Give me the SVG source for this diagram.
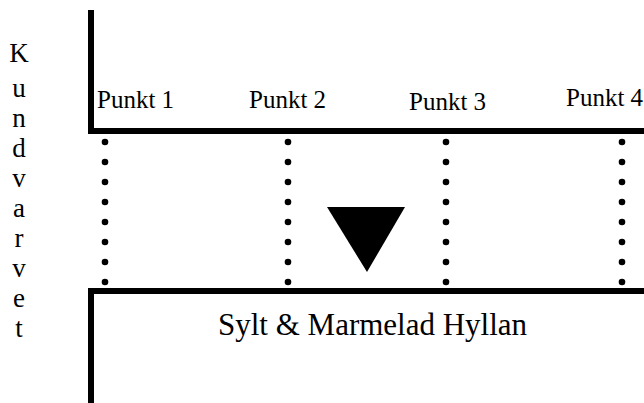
<svg xmlns="http://www.w3.org/2000/svg" width="644" height="403" viewBox="0 0 644 403">
<style>
.wall{stroke:#000;stroke-width:6;fill:none;stroke-linecap:square}
.dot{fill:#000}
.lbl{font-family:"Liberation Serif","Times New Roman",serif;fill:#000}
.p{font-size:25px}
.v{font-size:27px;text-anchor:middle}
.s{font-size:31px}
</style>
<rect width="644" height="403" fill="#fff"/>
<defs>
<g id="dotcol">
<circle cx="0" cy="142" r="3.3"/><circle cx="0" cy="162" r="3.3"/><circle cx="0" cy="182" r="3.3"/><circle cx="0" cy="202" r="3.3"/><circle cx="0" cy="222" r="3.3"/><circle cx="0" cy="242" r="3.3"/><circle cx="0" cy="262" r="3.3"/><circle cx="0" cy="282" r="3.3"/>
</g>
</defs>
<g id="walls">
<path class="wall" d="M91,13 V131 H647"/>
<path class="wall" d="M91,406 V291 H647"/>
</g>
<g id="connectors">
<use href="#dotcol" x="105" class="dot"/>
<use href="#dotcol" x="288" class="dot"/>
<use href="#dotcol" x="446" class="dot"/>
<use href="#dotcol" x="622" class="dot"/>
</g>
<g id="arrow"><polygon points="327,207 405,207 367,272" fill="#000"/></g>
<g id="label-kundvarvet" class="lbl v">
<text x="19" y="62">K</text>
<text x="19" y="97">u</text>
<text x="19" y="127">n</text>
<text x="19" y="157">d</text>
<text x="19" y="187">v</text>
<text x="19" y="217">a</text>
<text x="19" y="247">r</text>
<text x="19" y="277">v</text>
<text x="19" y="307">e</text>
<text x="19" y="337">t</text>
</g>
<g id="punkt1"><text class="lbl p" x="97" y="108">Punkt 1</text></g>
<g id="punkt2"><text class="lbl p" x="249" y="108">Punkt 2</text></g>
<g id="punkt3"><text class="lbl p" x="409" y="110">Punkt 3</text></g>
<g id="punkt4"><text class="lbl p" x="566" y="106">Punkt 4</text></g>
<g id="hyllan"><text class="lbl s" x="218" y="335">Sylt &amp; Marmelad Hyllan</text></g>
</svg>
